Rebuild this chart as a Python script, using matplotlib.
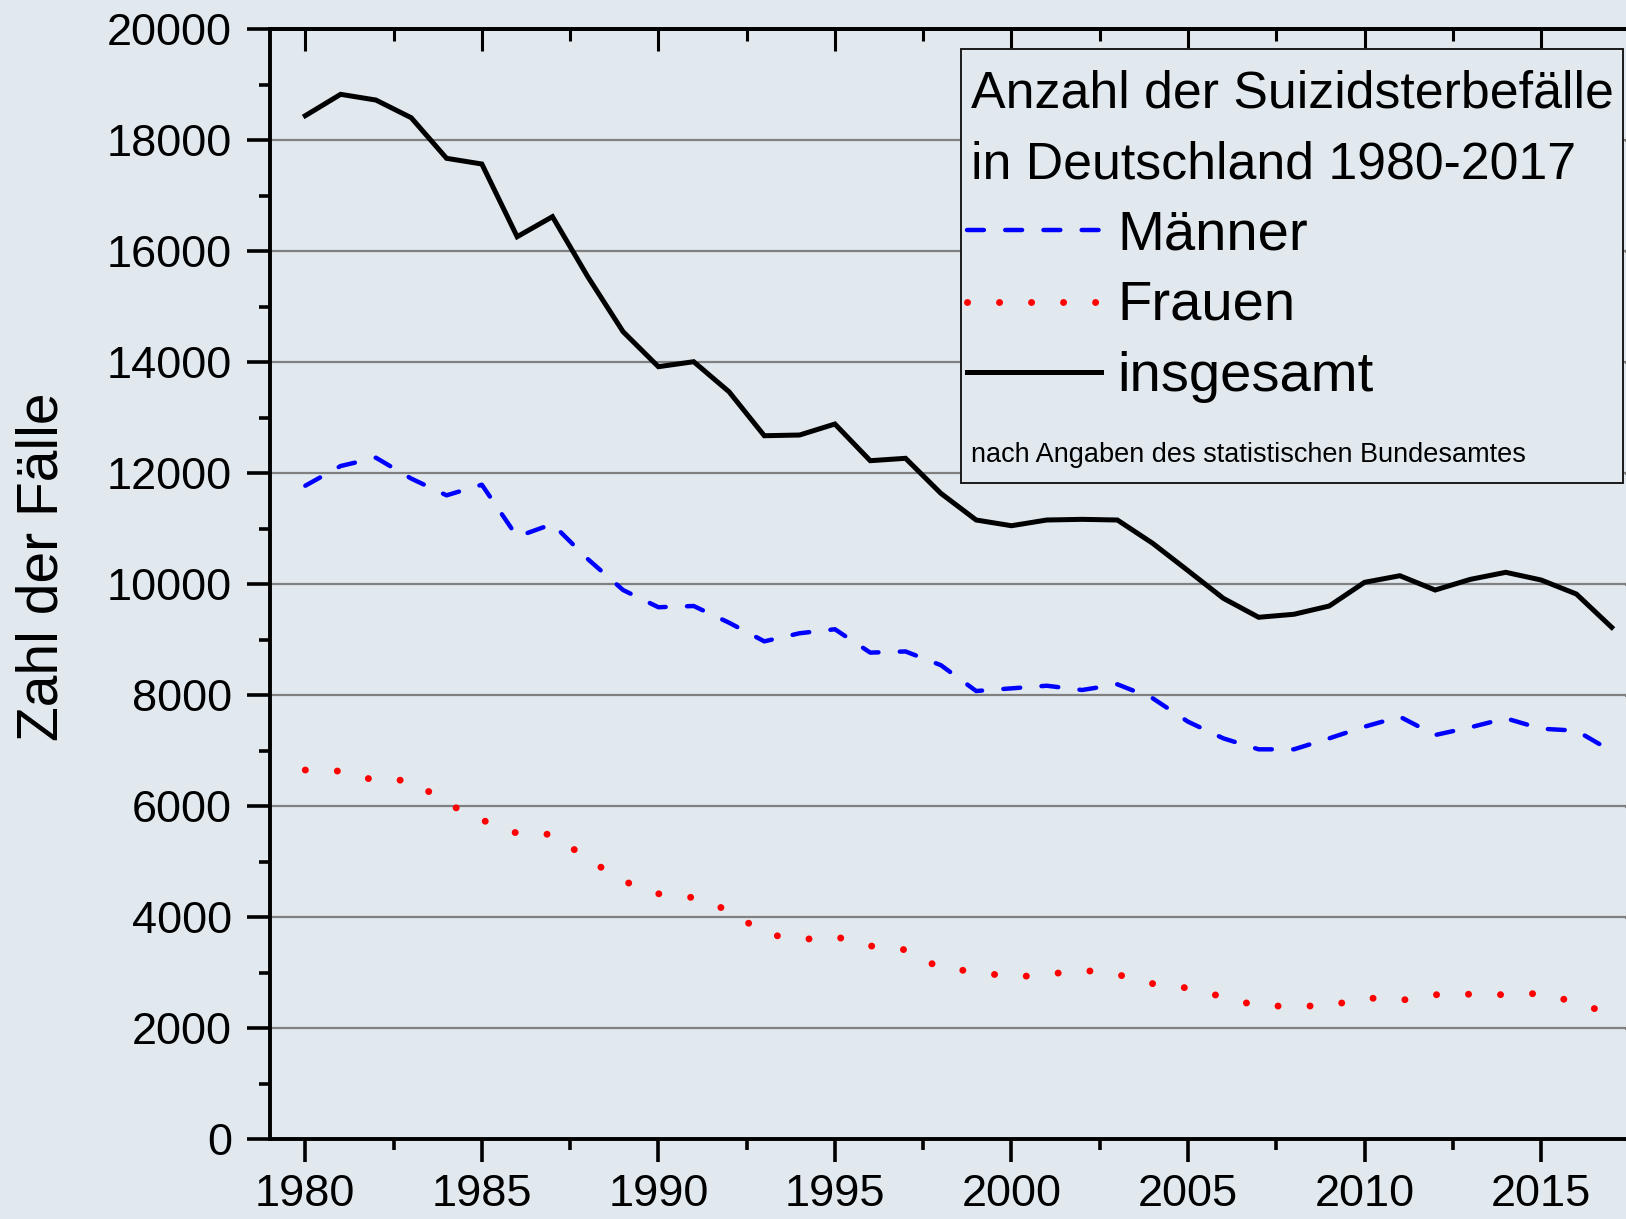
import matplotlib
matplotlib.use('Agg')
import matplotlib.pyplot as plt
from matplotlib.lines import Line2D
from matplotlib.patches import Rectangle
from matplotlib.ticker import MultipleLocator

plt.rcParams['font.family'] = ['Liberation Sans', 'DejaVu Sans']

years = list(range(1980, 2018))
insgesamt = [18443, 18828, 18725, 18406, 17675, 17572, 16262, 16623, 15541, 14550,
             13919, 14009, 13468, 12675, 12688, 12886, 12225, 12268, 11637, 11156,
             11053, 11156, 11168, 11156, 10736, 10243, 9745, 9403, 9457, 9606,
             10033, 10152, 9894, 10087, 10213, 10075, 9822, 9222]
maenner = [11774, 12129, 12279, 11903, 11601, 11792, 10855, 11084, 10453, 9894,
           9584, 9606, 9306, 8969, 9115, 9187, 8766, 8787, 8540, 8074,
           8122, 8169, 8092, 8195, 7943, 7521, 7221, 7023, 7023, 7221,
           7431, 7611, 7281, 7420, 7582, 7395, 7359, 6990]
frauen = [6650, 6630, 6460, 6470, 6050, 5750, 5510, 5490, 5046, 4650,
          4420, 4350, 4119, 3705, 3590, 3650, 3480, 3410, 3075, 3020,
          2915, 2965, 3045, 2965, 2800, 2720, 2560, 2395, 2397, 2397,
          2550, 2495, 2600, 2610, 2600, 2625, 2460, 2245]

legend_title = ["Anzahl der Suizidsterbefälle", "in Deutschland 1980-2017"]
labels = ["Männer", "Frauen", "insgesamt"]
note = "nach Angaben des statistischen Bundesamtes"
ylabel = "Zahl der Fälle"

BG = '#E1E9EF'
W, H = 1626, 1219
fig = plt.figure(figsize=(W / 100, H / 100), dpi=100, facecolor=BG)

def fx(px):
    return px / W

def fy(py):
    return 1 - py / H

ax = fig.add_axes([fx(270), fy(1139), (1647 - 270) / W, (1139 - 29.3) / H])
ax.set_facecolor(BG)
ax.set_xlim(1979, 2018)
ax.set_ylim(0, 20000)

style_m = dict(color='#0000FF', lw=3.2, dashes=(3.8, 4.8), dash_capstyle='round')
style_f = dict(color='#FF0000', lw=5.0, dashes=(0.01, 4.6), dash_capstyle='round')
style_g = dict(color='black', lw=3.6, solid_joinstyle='miter')

ax.plot(years, maenner, **style_m, zorder=3)
ax.plot(years, frauen, **style_f, zorder=3)
ax.plot(years, insgesamt, **style_g, zorder=4)

ax.xaxis.set_major_locator(MultipleLocator(5))
ax.xaxis.set_minor_locator(MultipleLocator(2.5))
ax.yaxis.set_major_locator(MultipleLocator(2000))
ax.yaxis.set_minor_locator(MultipleLocator(1000))

ax.yaxis.grid(True, which='major', color='#808080', lw=1.6)
ax.set_axisbelow(True)

for s in ax.spines.values():
    s.set_linewidth(2.8)
    s.set_color('black')

ax.tick_params(axis='both', which='major', direction='out', length=16.5, width=2.6,
               labelsize=32.5, colors='black')
ax.tick_params(axis='both', which='minor', direction='out', length=8, width=2.6)
ax.tick_params(axis='y', which='major', pad=11)
ax.tick_params(axis='x', which='major', pad=9)

secx = ax.secondary_xaxis('top')
secx.xaxis.set_major_locator(MultipleLocator(5))
secx.xaxis.set_minor_locator(MultipleLocator(2.5))
secx.tick_params(which='major', direction='in', length=16, width=2.2, labeltop=False)
secx.tick_params(which='minor', direction='in', length=8.5, width=2.2)
secx.spines['top'].set_linewidth(2.6)

secy = ax.secondary_yaxis('right')
secy.yaxis.set_major_locator(MultipleLocator(2000))
secy.yaxis.set_minor_locator(MultipleLocator(1000))
secy.tick_params(which='major', direction='in', length=16, width=2.2, labelright=False)
secy.tick_params(which='minor', direction='in', length=8.5, width=2.2)
secy.spines['right'].set_linewidth(2.6)

fig.text(fx(42), fy(567), ylabel, rotation=90, fontsize=41, ha='center', va='center')

# legend box
box = Rectangle((fx(961), fy(483)), fx(1623) - fx(961), fy(48.7) - fy(483),
                transform=fig.transFigure, facecolor=BG, edgecolor='#1a1a1a',
                lw=1.4, zorder=10)
fig.add_artist(box)

fig.text(fx(970.7), fy(107.7), legend_title[0], fontsize=37.4, va='baseline', ha='left', zorder=11)
fig.text(fx(970.7), fy(178.3), legend_title[1], fontsize=37.4, va='baseline', ha='left', zorder=11)

rows = [(230.3, 249.3, style_m), (301.7, 320.0, style_f), (371.7, 390.7, style_g)]
for (hy, by, st), lab in zip(rows, labels):
    ln = Line2D([fx(967), fx(1101)], [fy(hy), fy(hy)], transform=fig.transFigure,
                zorder=11, **st)
    fig.add_artist(ln)
    fig.text(fx(1117), fy(by), lab, fontsize=40.5, va='baseline', ha='left', zorder=11)

fig.text(fx(970.7), fy(461.7), note, fontsize=19.5, va='baseline', ha='left', zorder=11)

fig.savefig('out.png', dpi=100, facecolor=BG)
